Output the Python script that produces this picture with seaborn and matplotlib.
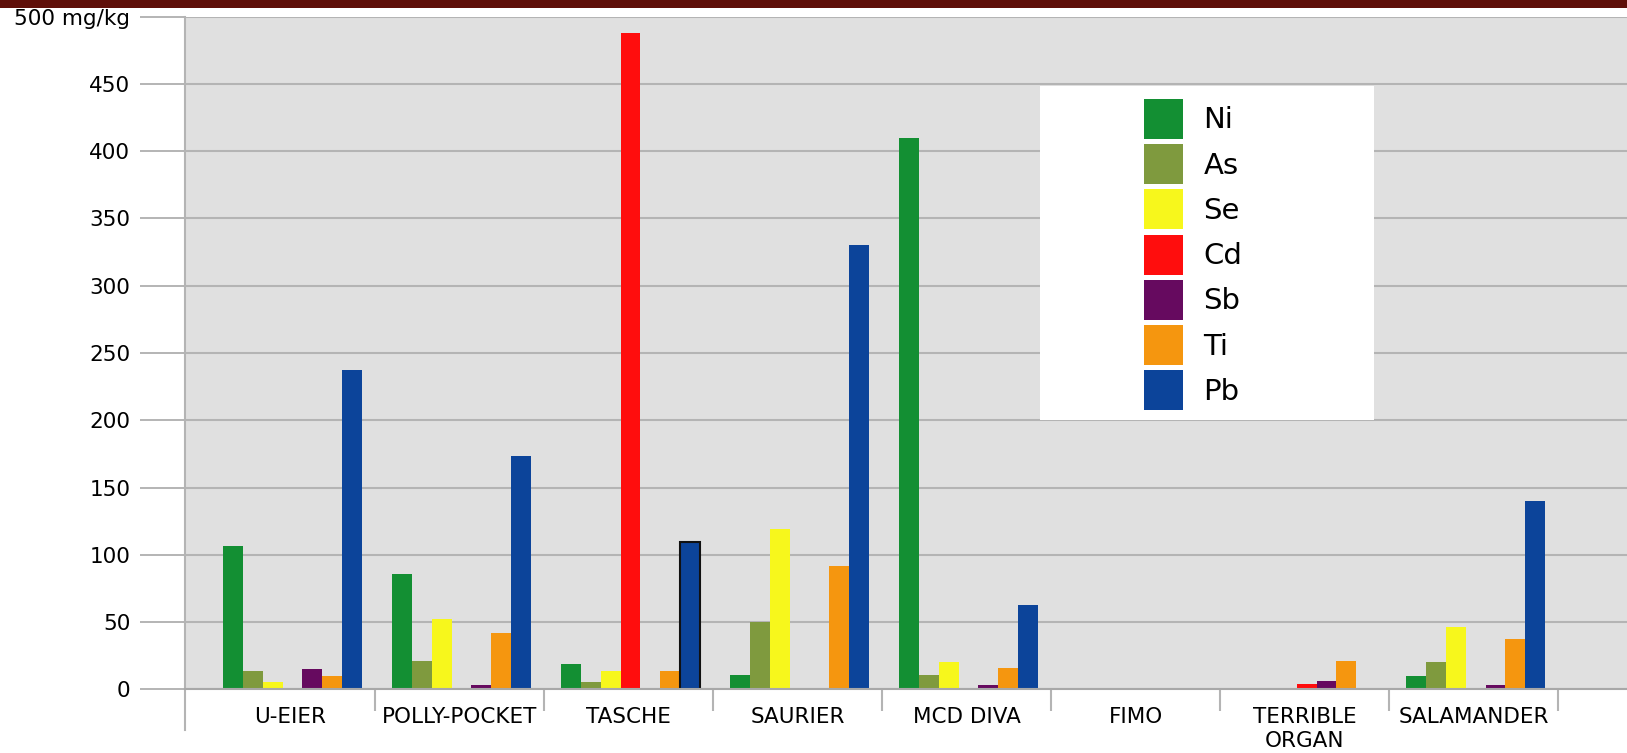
import numpy as np
import pandas as pd
import seaborn as sns
import matplotlib.pyplot as plt
from matplotlib.patches import Rectangle

W, H = 1627, 753

probes = ["U-EIER", "POLLY-POCKET", "TASCHE", "SAURIER", "MCD DIVA",
          "FIMO", "TERRIBLE\nORGAN", "SALAMANDER"]
elements = ["Ni", "As", "Se", "Cd", "Sb", "Ti", "Pb"]

# mg/kg per sample
ni = [106.2, 85.6, 18.8, 10.7, 410.0, 0.0, 1.0, 9.7]
as_ = [13.4, 21.3, 5.5, 50.1, 10.7, 0.0, 0.0, 20.4]
se = [5.6, 52.6, 13.6, 119.4, 20.1, 0.0, 0.0, 46.5]
cd = [0.0, 0.0, 488.2, 0.0, 0.0, 0.0, 3.7, 0.0]
sb = [14.8, 3.5, 0.0, 0.0, 3.2, 0.0, 6.2, 3.5]
ti = [9.8, 42.2, 13.6, 92.0, 16.1, 0.0, 21.3, 37.6]
pb = [237.3, 173.2, 109.5, 330.0, 62.7, 0.6, 0.0, 140.0]

colors = ["#138f33", "#7f9a3e", "#f7f71c", "#ff0d0d", "#660a5f", "#f5960f", "#0c449a"]

ytick_vals = list(range(0, 501, 50))
ytick_labels = [str(v) for v in ytick_vals[:-1]] + ["500 mg/kg"]


def build_frame():
    rows = []
    for el, vals in zip(elements, [ni, as_, se, cd, sb, ti, pb]):
        for p, v in zip(probes, vals):
            rows.append({"probe": p, "element": el, "value": v})
    return pd.DataFrame(rows)


def make_plot(df, filename):
    fig = plt.figure(figsize=(W / 100, H / 100), dpi=100)
    fig.patch.set_facecolor("white")
    y0, y500 = 689.3, 16.7
    ax = fig.add_axes([185 / W, (H - y0) / H, (W - 185) / W, (y0 - y500) / H])
    ax.set_facecolor("#e0e0e0")

    sns.barplot(data=df, x="probe", y="value", hue="element", hue_order=elements,
                order=probes, palette=dict(zip(elements, colors)), saturation=1,
                width=0.825, gap=0, edgecolor="none", linewidth=0, ax=ax)

    for bar in ax.patches:
        # groups sit a little right of the category centre
        bar.set_x(bar.get_x() + 0.012)
        # the one bar with a dark outline
        if abs(bar.get_height() - pb[2]) < 0.01:
            bar.set_edgecolor("#111111")
            bar.set_linewidth(1.5)

    ax.set_xlim(-0.624, 7.908)
    ax.set_ylim(0, 500)
    ax.set_xlabel("")
    ax.set_ylabel("")
    ax.set_yticks(ytick_vals)
    ax.set_yticklabels(ytick_labels)
    ax.set_axisbelow(True)
    ax.yaxis.grid(True, color="#b4b4b4", linewidth=1.5)
    ax.xaxis.grid(False)

    for s in ["top", "right"]:
        ax.spines[s].set_visible(False)
    ax.spines["bottom"].set_color("#a8a8a8")
    ax.spines["bottom"].set_linewidth(1.5)
    ax.spines["left"].set_color("#b4b4b4")
    ax.spines["left"].set_linewidth(1.5)
    ax.spines["left"].set_bounds(-30.5, 500)

    ax.set_xticks(np.arange(0.5, 8, 1), minor=True)
    ax.tick_params(axis="x", which="major", length=0, pad=13, labelsize=15.5,
                   labelcolor="black")
    ax.tick_params(axis="x", which="minor", length=16, width=1.5, color="#b4b4b4")
    ax.tick_params(axis="y", length=32.4, width=1.4, color="#b4b4b4", pad=7,
                   labelsize=15.5, labelcolor="black")

    # white box behind the legend
    ax.add_artist(Rectangle((1040 / W, 1 - 420 / H), 334 / W, 334 / H,
                            transform=fig.transFigure, facecolor="white",
                            edgecolor="none", zorder=4, clip_on=False))
    sns.move_legend(ax, loc="upper left", bbox_to_anchor=(1144 / W, 1 - 99 / H),
                    bbox_transform=fig.transFigure, frameon=False, title=None,
                    fontsize=21, handlelength=1.337, handleheight=1.732,
                    labelspacing=0.18, handletextpad=0.7, borderpad=0,
                    borderaxespad=0)

    # dark band at the top of the page
    fig.add_artist(Rectangle((0, 1 - 8 / H), 1, 8 / H, transform=fig.transFigure,
                             facecolor="#5f0f09", edgecolor="none"))

    fig.savefig(filename, dpi=100)


def main():
    df = build_frame()
    make_plot(df, "out.png")


main()
